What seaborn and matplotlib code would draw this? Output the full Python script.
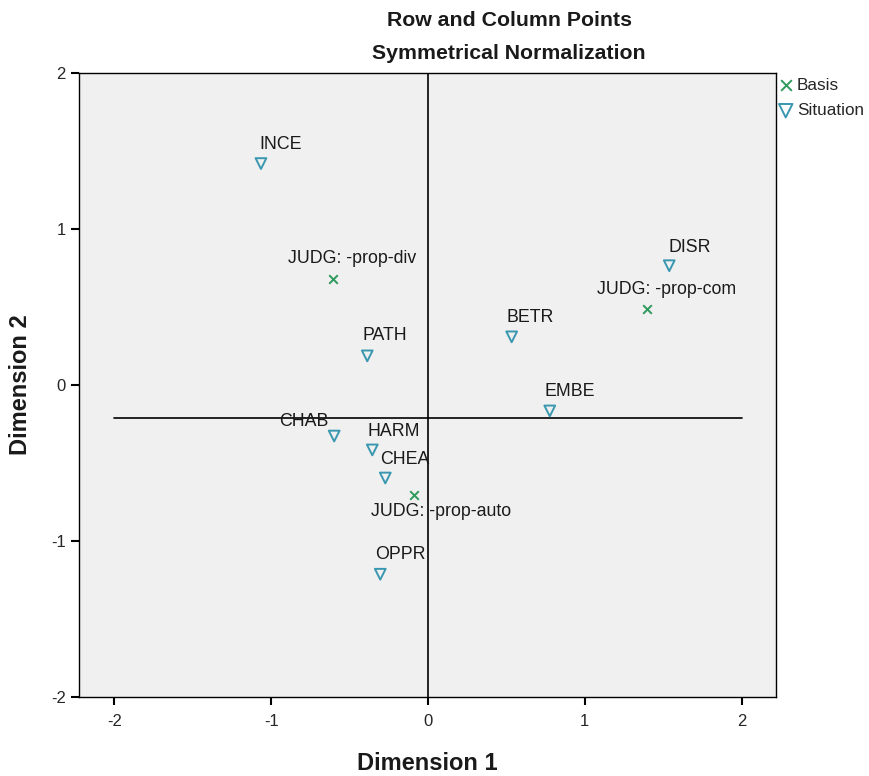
import matplotlib
matplotlib.use("Agg")
import matplotlib.pyplot as plt
import seaborn as sns
import pandas as pd

labels = ["INCE", "JUDG: -prop-div", "DISR", "JUDG: -prop-com", "BETR", "PATH",
          "EMBE", "CHAB", "HARM", "CHEA", "JUDG: -prop-auto", "OPPR"]
groups = ["Situation", "Basis", "Situation", "Basis", "Situation", "Situation",
          "Situation", "Situation", "Situation", "Situation", "Basis", "Situation"]
dim1 = [-1.065, -0.605, 1.539, 1.398, 0.534, -0.387, 0.777, -0.598, -0.355, -0.272, -0.086, -0.304]
dim2 = [1.419, 0.681, 0.764, 0.488, 0.308, 0.186, -0.167, -0.328, -0.417, -0.597, -0.706, -1.214]
ref_y = -0.212
ref_x = 0.0

# label offsets in pixels (left edge dx, vertical center dy) relative to the marker
label_offsets = [(-2, 19), (-45, 20), (-1, 18), (-50, 19), (-5, 19), (-5, 20),
                 (-5, 19), (-55, 15), (-5, 18), (-5, 19), (-43, -16), (-5, 20)]

df = pd.DataFrame({"label": labels, "group": groups, "Dimension 1": dim1, "Dimension 2": dim2})

sns.set_theme(style="white")
plt.rcParams["font.family"] = ["Liberation Sans", "DejaVu Sans"]
plt.rcParams["axes.unicode_minus"] = False

fig = plt.figure(figsize=(8.69, 7.76), dpi=100)
ax = fig.add_axes([0.091, 0.102, 0.802, 0.804])
ax.set_facecolor("#f0f0f0")

green = "#2e9a5c"
teal = "#3a97b0"

sns.scatterplot(data=df[df.group == "Basis"], x="Dimension 1", y="Dimension 2",
                marker="x", color=green, s=38, linewidth=1.4, ax=ax, label="Basis", zorder=3)
sns.scatterplot(data=df[df.group == "Situation"], x="Dimension 1", y="Dimension 2",
                marker="v", facecolor="none", edgecolor=teal, s=60, linewidth=1.4, ax=ax,
                label="Situation", zorder=3)

ax.plot([-2, 2], [ref_y, ref_y], color="black", lw=1.2, zorder=2)
ax.axvline(ref_x, color="black", lw=1.2, zorder=2)

for lab, x, y, (dx, dy) in zip(labels, dim1, dim2, label_offsets):
    ax.annotate(lab, (x, y), xytext=(dx * 0.72, dy * 0.72), textcoords="offset points",
                ha="left", va="center", fontsize=12.8, color="#1a1a1a", zorder=4)

ax.set_xlim(-2.225, 2.22)
ax.set_ylim(-2, 2)
ax.set_xticks([-2, -1, 0, 1, 2])
ax.set_yticks([-2, -1, 0, 1, 2])
ax.tick_params(axis="both", direction="out", length=6, width=1.5, color="black",
               labelsize=12, bottom=True, left=True)
ax.tick_params(axis="x", pad=6)
for sp in ax.spines.values():
    sp.set_color("black")
    sp.set_linewidth(1.0)

lab_font = dict(family=["Liberation Sans", "DejaVu Sans"], fontsize=17, fontweight="bold",
                color="#1a1a1a")
ax.set_xlabel("Dimension 1", labelpad=17, **lab_font)
ax.set_ylabel("Dimension 2", labelpad=14, **lab_font)

fig.text(0.586, 0.974, "Row and Column Points", ha="center", va="center",
         fontsize=15.3, fontweight="bold", color="#1a1a1a")
fig.text(0.586, 0.931, "Symmetrical Normalization", ha="center", va="center",
         fontsize=15.3, fontweight="bold", color="#1a1a1a")

leg = ax.legend(loc="upper left", bbox_to_anchor=(0.998, 0.998), frameon=False,
                fontsize=12.3, handletextpad=0.2, borderaxespad=0.0, borderpad=0.2,
                labelspacing=0.62, handlelength=0.9, markerscale=1.25)

fig.savefig("out.png", dpi=100)
